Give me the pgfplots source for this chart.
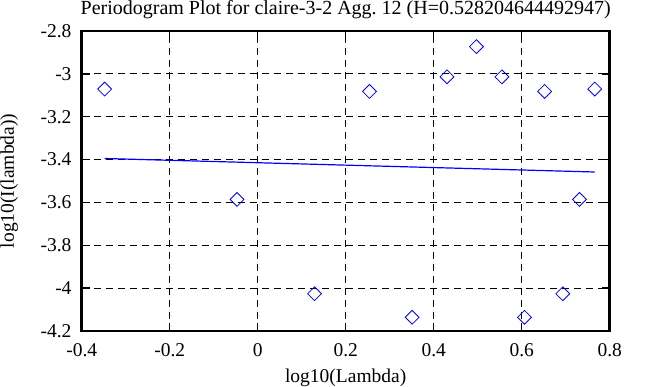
\documentclass[border=0pt]{standalone}
\usepackage{pgfplots}
\pgfplotsset{compat=1.18}
\usepackage{fontspec}
\setmainfont{Liberation Serif}
\begin{document}
\begin{tikzpicture}
\begin{axis}[
  scale only axis, width=528bp, height=300bp,
  xmin=-0.4, xmax=0.8, ymin=-4.2, ymax=-2.8,
  xtick={-0.4,-0.2,0,0.2,0.4,0.6,0.8},
  ytick={-4.2,-4,-3.8,-3.6,-3.4,-3.2,-3,-2.8},
  xticklabels={-0.4,-0.2,0,0.2,0.4,0.6,0.8},
  yticklabels={-4.2,-4,-3.8,-3.6,-3.4,-3.2,-3,-2.8},
  grid=major,
  major grid style={black, line width=0.9bp, dash pattern=on 7bp off 5bp},
  axis line style={black, line width=2.5bp},
  tick style={black, line width=1.5bp},
  major tick length=8bp,
  tick align=inside, tick pos=both,
  font=\fontsize{19.5bp}{23bp}\selectfont,
  xticklabel style={anchor=base, yshift=-25.7bp, inner sep=0pt},
  yticklabel style={anchor=east, xshift=-10bp, inner sep=0pt},
  every axis title shift=0pt,
  title={Periodogram Plot for claire-3-2 Agg.\ 12 (H=0.528204644492947)},
  title style={at={([yshift=16bp]axis description cs:0.5,1)}, anchor=base, inner sep=0pt, font=\fontsize{20bp}{23bp}\selectfont},
  xlabel={log10(Lambda)},
  xlabel style={at={([yshift=-51.5bp]axis description cs:0.5,0)}, anchor=base, inner sep=0pt},
  ylabel={log10(I(lambda))},
  ylabel style={at={([xshift=-67.7bp]axis description cs:0,0.5)}, anchor=base, inner sep=0pt},
  clip=false,
]
\path ([xshift=-81.7bp,yshift=-56bp]axis description cs:0,0) rectangle ([xshift=48.3bp,yshift=31bp]axis description cs:1,1);
\addplot[only marks, blue, mark=square, mark size=4.9bp, line width=0.8bp, mark options={rotate=45, fill=none}] coordinates {
(-0.34795,-3.071)
(-0.04692,-3.586)
(0.12917,-4.026)
(0.25411,-3.082)
(0.35102,-4.136)
(0.43021,-3.014)
(0.49715,-2.873)
(0.55514,-3.014)
(0.60630,-4.136)
(0.65205,-3.082)
(0.69344,-4.026)
(0.73123,-3.586)
(0.76599,-3.071)
};
\addplot[blue, line width=1.2bp, no marks] coordinates {
(-0.34795,-3.395)
(0.76599,-3.458)
};
\end{axis}
\end{tikzpicture}
\end{document}
